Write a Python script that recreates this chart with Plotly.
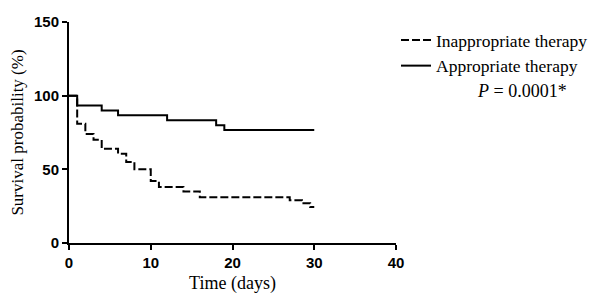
import plotly.graph_objects as go

# Kaplan-Meier style survival data (step after each time point)
t_inapp = [0, 1, 2, 3, 4, 6, 7, 8, 10, 11, 14, 16, 27, 28.5, 29.5, 30]
s_inapp = [100, 81, 74, 70, 64, 60.5, 55, 50, 42, 38, 35, 31, 29, 27, 24.5, 24.5]

t_app = [0, 1, 4, 6, 12, 18, 19, 30]
s_app = [100, 93.3, 90, 86.7, 83.3, 80, 76.7, 76.7]

x_ticks = [0, 10, 20, 30, 40]
y_ticks = [0, 50, 100, 150]

serif = "Liberation Serif"
sans = "Liberation Sans"

fig = go.Figure()
fig.add_trace(go.Scatter(
    x=t_inapp, y=s_inapp, mode="lines", line_shape="hv",
    name="Inappropriate therapy",
    line=dict(color="black", width=2, dash="8px,3px"),
))
fig.add_trace(go.Scatter(
    x=t_app, y=s_app, mode="lines", line_shape="hv",
    name="Appropriate therapy",
    line=dict(color="black", width=2),
))

# page body has an 8px margin, so the figure is 592x288 and sits at (8, 8)
fig.update_layout(
    width=592, height=288,
    margin=dict(l=61, r=204, t=14, b=53, autoexpand=False),
    paper_bgcolor="white", plot_bgcolor="white",
    showlegend=True,
    legend=dict(
        x=1.0, y=1.0, xanchor="left", yanchor="top",
        font=dict(family=serif, size=17.5, color="black"),
        bgcolor="rgba(0,0,0,0)", itemwidth=30,
        tracegroupgap=0,
    ),
    xaxis=dict(
        range=[0, 40], tickvals=x_ticks, ticktext=[str(v) for v in x_ticks],
        showline=True, linecolor="black", linewidth=2,
        ticks="outside", ticklen=5, tickwidth=2, tickcolor="black",
        showgrid=False, zeroline=False, automargin=False,
        tickfont=dict(family=sans, size=15, color="black", weight="bold"),
        title=dict(text="Time (days)", font=dict(family=serif, size=18, color="black"), standoff=6),
    ),
    yaxis=dict(
        range=[0, 150], tickvals=y_ticks, ticktext=[str(v) for v in y_ticks],
        showline=True, linecolor="black", linewidth=2,
        ticks="outside", ticklen=5, tickwidth=2, tickcolor="black",
        showgrid=False, zeroline=False, automargin=False,
        tickfont=dict(family=sans, size=15, color="black", weight="bold"),
        title=dict(text="Survival probability (%)", font=dict(family=serif, size=17, color="black"), standoff=8),
    ),
    annotations=[dict(
        text="<i>P</i> = 0.0001*", xref="paper", yref="paper",
        x=1.385, y=0.69, xanchor="center", yanchor="middle", showarrow=False,
        font=dict(family=serif, size=18, color="black"),
    )],
)

fig.write_html("out.html")
